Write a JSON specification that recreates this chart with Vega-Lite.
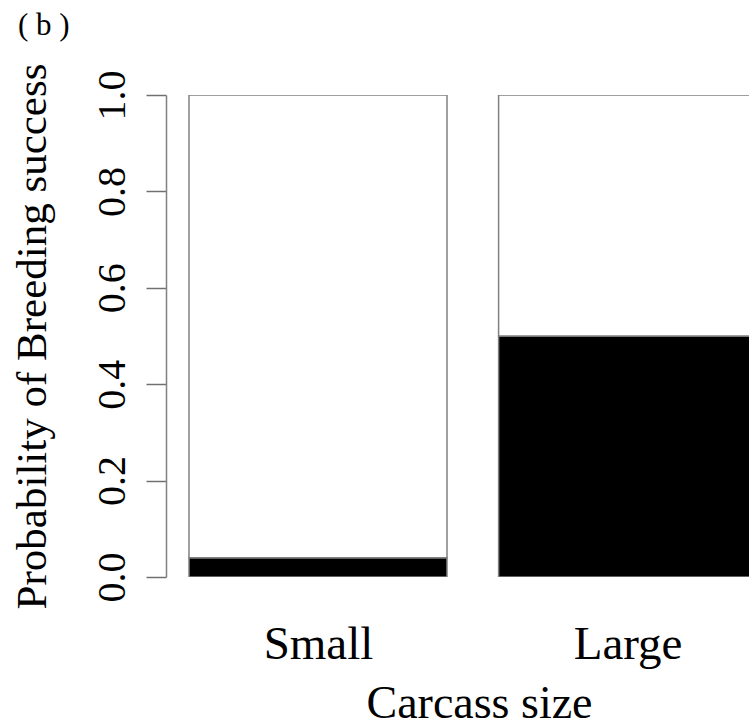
{
  "$schema": "https://vega.github.io/schema/vega-lite/v6.json",
  "autosize": "none",
  "width": 583,
  "height": 482,
  "padding": {"left": 166, "top": 95, "right": 0, "bottom": 149},
  "background": "white",
  "config": {
    "view": {"stroke": null},
    "font": "Liberation Serif"
  },
  "title": {
    "text": "( b )",
    "anchor": "start",
    "frame": "group",
    "font": "Liberation Serif",
    "fontSize": 31,
    "fontWeight": "normal",
    "color": "black",
    "baseline": "alphabetic",
    "dx": -148,
    "offset": -3
  },
  "data": {
    "values": [
      {"size": "Small", "outcome": "success", "x0": 0, "x1": 1, "p0": 0, "p1": 0.04},
      {"size": "Small", "outcome": "failure", "x0": 0, "x1": 1, "p0": 0.04, "p1": 1},
      {"size": "Large", "outcome": "success", "x0": 1.2, "x1": 2.2, "p0": 0, "p1": 0.5},
      {"size": "Large", "outcome": "failure", "x0": 1.2, "x1": 2.2, "p0": 0.5, "p1": 1}
    ]
  },
  "mark": {"type": "rect", "clip": true, "stroke": "#808080", "strokeWidth": 1.5},
  "encoding": {
    "x": {
      "field": "x0",
      "type": "quantitative",
      "scale": {"domain": [-0.0891, 2.1705], "nice": false, "zero": false},
      "axis": {
        "values": [0.5, 1.7],
        "labelExpr": "datum.value < 1 ? 'Small' : 'Large'",
        "grid": false,
        "ticks": false,
        "domain": false,
        "labelFont": "Liberation Serif",
        "labelFontSize": 47,
        "labelColor": "black",
        "labelBaseline": "alphabetic",
        "labelPadding": 81,
        "labelFlush": false,
        "title": "Carcass size",
        "titleFont": "Liberation Serif",
        "titleFontSize": 46,
        "titleFontWeight": "normal",
        "titleColor": "black",
        "titleBaseline": "alphabetic",
        "titleAlign": "center",
        "titleAnchor": null,
        "titleX": 313,
        "titleY": 140
      }
    },
    "x2": {"field": "x1"},
    "y": {
      "field": "p0",
      "type": "quantitative",
      "scale": {"domain": [0, 1], "nice": false},
      "axis": {
        "values": [0, 0.2, 0.4, 0.6, 0.8, 1.0],
        "format": ".1f",
        "grid": false,
        "domainColor": "#808080",
        "domainWidth": 1.5,
        "tickColor": "#707070",
        "tickWidth": 1.5,
        "tickSize": 20,
        "labelFont": "Liberation Serif",
        "labelFontSize": 40,
        "labelColor": "black",
        "labelAngle": 270,
        "labelAlign": "center",
        "labelBaseline": "alphabetic",
        "labelPadding": 22,
        "labelFlush": false,
        "labelOverlap": false,
        "title": "Probability of Breeding success",
        "titleFont": "Liberation Serif",
        "titleFontSize": 43,
        "titleFontWeight": "normal",
        "titleColor": "black",
        "titleAngle": 270,
        "titleAlign": "center",
        "titleBaseline": "alphabetic",
        "titleAnchor": null,
        "titleX": -121,
        "titleY": 241
      }
    },
    "y2": {"field": "p1"},
    "color": {
      "field": "outcome",
      "type": "nominal",
      "scale": {"domain": ["success", "failure"], "range": ["black", "white"]},
      "legend": null
    }
  }
}
